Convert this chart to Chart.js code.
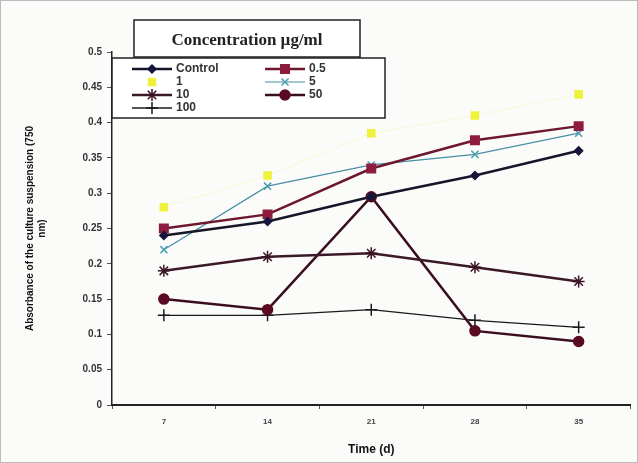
<!DOCTYPE html>
<html>
<head>
<meta charset="utf-8">
<script src="https://cdn.jsdelivr.net/npm/chart.js@4/dist/chart.umd.min.js"></script>
<style>
  html, body { margin: 0; padding: 0; background: #fff; }
  #wrap { width: 638px; height: 463px; position: relative; }
</style>
</head>
<body>
<div id="wrap"><canvas id="canvas1" width="638" height="463"></canvas></div>
<script>
// Absorbance vs time, per concentration
var days = ['7', '14', '21', '28', '35'];
var seriesNames = ['Control', '0.5', '1', '5', '10', '50', '100'];
var dataControl = [0.24, 0.26, 0.295, 0.325, 0.36];
var data05 = [0.25, 0.27, 0.335, 0.375, 0.395];
var data1 = [0.28, 0.325, 0.385, 0.41, 0.44];
var data5 = [0.22, 0.31, 0.34, 0.355, 0.385];
var data10 = [0.19, 0.21, 0.215, 0.195, 0.175];
var data50 = [0.15, 0.135, 0.295, 0.105, 0.09];
var data100 = [0.127, 0.127, 0.135, 0.12, 0.11];
var yTicks = [0, 0.05, 0.1, 0.15, 0.2, 0.25, 0.3, 0.35, 0.4, 0.45, 0.5];

function ds(label, data, color, lineColor, width, style, radius) {
    return {
        label: label,
        data: data,
        borderColor: lineColor,
        backgroundColor: color,
        pointBorderColor: color,
        pointBackgroundColor: color,
        borderWidth: width,
        pointStyle: style,
        pointRadius: radius,
        pointBorderWidth: 1.5,
        tension: 0
    };
}

var datasets = [
    ds(seriesNames[0], dataControl, '#15153e', '#16162a', 2.5, 'rectRot', 4),
    ds(seriesNames[1], data05, '#8e1c40', '#6e1830', 2.5, 'rect', 6),
    ds(seriesNames[2], data1, '#eef23a', 'rgba(240,240,150,0.35)', 1, 'rect', 5),
    ds(seriesNames[3], data5, '#4a9fb4', '#4a8ea4', 1.2, 'crossRot', 5),
    ds(seriesNames[4], data10, '#3a1426', '#3a1a28', 2.5, 'star', 6),
    ds(seriesNames[5], data50, '#5a0a22', '#3a0e1c', 2.5, 'circle', 5),
    ds(seriesNames[6], data100, '#1a1a1a', '#1a1a1a', 1.3, 'cross', 6)
];

function drawMarker(ctx, d, x, y) {
    var opts = {
        pointStyle: d.pointStyle, radius: d.pointRadius, rotation: 0,
        borderWidth: d.pointBorderWidth
    };
    ctx.save();
    ctx.fillStyle = d.pointBackgroundColor;
    ctx.strokeStyle = d.pointBorderColor;
    ctx.lineWidth = d.pointBorderWidth;
    Chart.helpers.drawPoint(ctx, opts, x, y);
    ctx.restore();
}

var boxesPlugin = {
    id: 'boxes',
    beforeDraw: function (chart) {
        var ctx = chart.ctx;
        ctx.save();
        ctx.fillStyle = '#fbfbf9';
        ctx.fillRect(0, 0, chart.width, chart.height);
        ctx.strokeStyle = '#bbb';
        ctx.lineWidth = 1;
        ctx.strokeRect(0.5, 0.5, chart.width - 1, chart.height - 1);
        ctx.restore();
    },
    afterDraw: function (chart) {
        var ctx = chart.ctx;
        ctx.save();
        // legend box
        ctx.fillStyle = '#fff';
        ctx.fillRect(112, 58, 273, 60);
        ctx.strokeStyle = '#222';
        ctx.lineWidth = 1.5;
        ctx.strokeRect(112, 58, 273, 60);
        var cols = [[0, 2, 4, 6], [1, 3, 5]];
        var colX = [132, 265];
        ctx.font = 'bold 12px "Liberation Sans", Arial, sans-serif';
        ctx.textBaseline = 'middle';
        cols.forEach(function (col, ci) {
            col.forEach(function (idx, ri) {
                var d = chart.data.datasets[idx];
                var y = 69 + ri * 13;
                var x0 = colX[ci];
                if (idx !== 2) {
                    ctx.strokeStyle = d.borderColor;
                    ctx.lineWidth = d.borderWidth;
                    ctx.beginPath();
                    ctx.moveTo(x0, y);
                    ctx.lineTo(x0 + 40, y);
                    ctx.stroke();
                }
                drawMarker(ctx, d, x0 + 20, y);
                ctx.fillStyle = '#333';
                ctx.textAlign = 'left';
                ctx.fillText(d.label, x0 + 44, y);
            });
        });
        // title box
        ctx.fillStyle = '#fff';
        ctx.fillRect(134, 20, 226, 37);
        ctx.strokeStyle = '#222';
        ctx.lineWidth = 1.5;
        ctx.strokeRect(134, 20, 226, 37);
        ctx.fillStyle = '#222';
        ctx.font = 'bold 17px "Liberation Serif", "Times New Roman", serif';
        ctx.textAlign = 'center';
        ctx.fillText('Concentration \u00b5g/ml', 247, 41);
        ctx.restore();
    }
};

var ctx1 = document.getElementById('canvas1').getContext('2d');
window.myLine = new Chart(ctx1, {
    type: 'line',
    data: { labels: days, datasets: datasets },
    plugins: [boxesPlugin],
    options: {
        responsive: false,
        animation: false,
        layout: { padding: { left: 24, right: 5, top: 52, bottom: 6 } },
        plugins: {
            legend: { display: false },
            tooltip: { enabled: false }
        },
        scales: {
            x: {
                offset: true,
                grid: { display: true, offset: true, drawOnChartArea: false, tickLength: 4, color: '#333', tickColor: '#555' },
                border: { color: '#222', width: 2 },
                ticks: { color: '#444', font: { size: 8, weight: 'bold', family: 'Liberation Sans' }, padding: 8 },
                title: { display: true, text: 'Time (d)', color: '#111', font: { size: 12, weight: 'bold', family: 'Liberation Sans' }, padding: { top: 2, bottom: 0 } },
                afterFit: function (scale) { scale.height = 52; }
            },
            y: {
                min: 0,
                max: 0.5,
                afterBuildTicks: function (scale) {
                    scale.ticks = yTicks.map(function (v) { return { value: v }; });
                },
                grid: { display: true, drawOnChartArea: false, tickLength: 5, tickColor: '#555' },
                border: { color: '#222', width: 1.5 },
                ticks: {
                    color: '#333',
                    font: { size: 10, weight: 'bold', family: 'Liberation Sans' },
                    padding: 5,
                    callback: function (v) { return String(Math.round(v * 100) / 100); }
                },
                title: {
                    display: true,
                    text: ['Absorbance of the culture suspension (750', 'nm)'],
                    color: '#111',
                    font: { size: 10, weight: 'bold', family: 'Liberation Sans' },
                    padding: { top: 0, bottom: 8 }
                },
                afterFit: function (scale) { scale.width = 88; }
            }
        }
    }
});
</script>
</body>
</html>
